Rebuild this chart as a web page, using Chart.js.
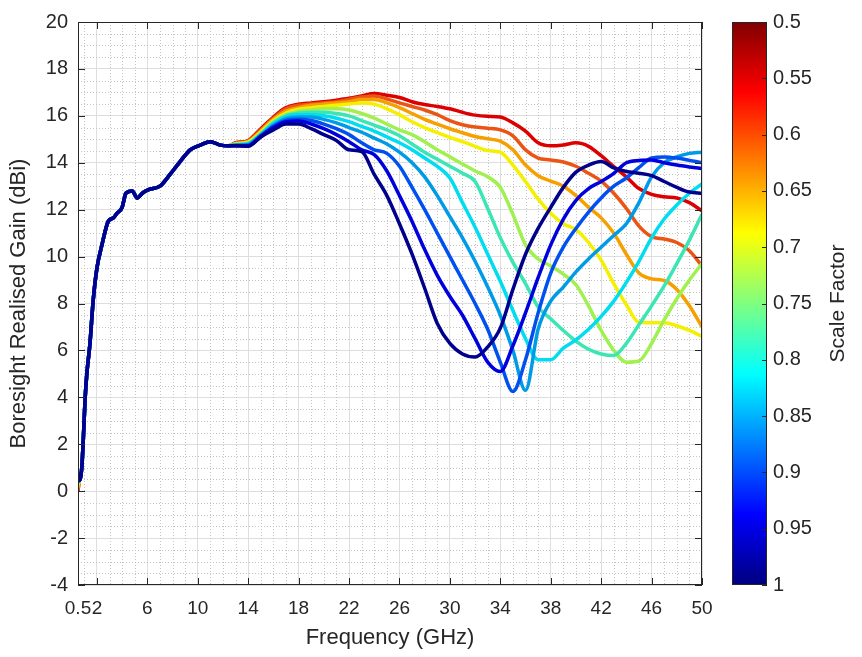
<!DOCTYPE html>
<html>
<head>
<meta charset="utf-8">
<script src="https://cdn.jsdelivr.net/npm/chart.js@4.4.1/dist/chart.umd.min.js"></script>
<style>
	html, body { margin: 0; padding: 0; background: #ffffff; }
	#wrap      { width: 862px; height: 657px; }
</style>
</head>
<body>
<div id="wrap"><canvas id="gainChart" width="862" height="657"></canvas></div>
<script>
// Boresight realised gain vs frequency, one trace per scale factor (jet colour scale)

const scaleFactors = [1, 0.95, 0.9, 0.85, 0.8, 0.75, 0.7, 0.65, 0.6, 0.55, 0.5]
const lineColors   = ['#00008c', '#0000dc', '#0050f0', '#009be6', '#00dcf0', '#3ce6b4', '#a0f050', '#f5f000', '#f5a000', '#eb5514', '#dc0000']
const startGain    = [0.8, 0.7, 0.6, 0.5, 0.45, 0.4, 0.3, 0.25, 0.15, 0.05, 0.0]

// shared low band, every trace sits on top of the others here
const lowFreq = [0.6, 0.8, 0.92, 1.06, 1.2, 1.45, 1.7, 2.0, 2.4, 2.9, 3.3, 3.6, 4.0, 4.3, 4.8, 5.2, 5.6, 6.1, 7.0, 7.8, 8.6, 9.4, 10.2, 11.0, 11.8, 12.4]
const lowGain = [0.45, 1.0, 2.2, 3.9, 5.0, 6.3, 8.1, 9.5, 10.5, 11.5, 11.65, 11.85, 12.1, 12.7, 12.8, 12.5, 12.7, 12.85, 13.0, 13.5, 14.05, 14.55, 14.75, 14.9, 14.75, 14.72]

const highFreq = [13, 14, 15, 16, 17, 18, 19, 20, 21, 22, 23, 24, 25, 26, 27, 28, 29, 30, 31, 32, 33, 34, 35, 36, 37, 38, 39, 40, 41, 42, 43, 44, 45, 46, 47, 48, 49, 50]

const gain100 = [14.72, 14.7, 15.1, 15.4, 15.65, 15.65, 15.45, 15.2, 14.95, 14.55, 14.48, 13.5, 12.6, 11.4, 10.1, 8.65, 7.15, 6.3, 5.85, 5.72, 6.15, 6.95, 8.6, 10.1, 11.2, 12.1, 12.95, 13.6, 13.9, 14.05, 13.78, 13.63, 13.55, 13.45, 13.2, 12.95, 12.75, 12.7]
const gain095 = [14.73, 14.72, 15.12, 15.5, 15.75, 15.78, 15.65, 15.45, 15.2, 14.9, 14.55, 14.35, 13.65, 12.6, 11.5, 10.3, 9.2, 8.3, 7.5, 6.5, 5.5, 5.1, 6.2, 7.6, 9.1, 10.5, 11.6, 12.4, 12.9, 13.2, 13.55, 14.0, 14.1, 14.12, 14.0, 13.9, 13.82, 13.75]
const gain090 = [14.74, 14.75, 15.15, 15.55, 15.8, 15.85, 15.8, 15.65, 15.45, 15.2, 14.85, 14.55, 14.4, 13.85, 12.95, 12.0, 11.0, 10.0, 9.0, 8.0, 6.9, 5.5, 4.25, 5.6, 7.6, 9.3, 10.4, 11.2, 11.9, 12.5, 13.0, 13.35, 13.8, 14.2, 14.25, 14.2, 14.1, 14.0]
const gain085 = [14.75, 14.78, 15.18, 15.6, 15.88, 15.95, 15.95, 15.85, 15.7, 15.5, 15.3, 15.05, 14.8, 14.45, 14.0, 13.4, 12.6, 11.7, 10.8, 9.8, 8.7, 7.5, 6.0, 4.3, 6.9, 8.1, 8.7, 9.35, 9.9, 10.4, 10.9, 11.4, 12.3, 13.4, 14.0, 14.25, 14.4, 14.45]
const gain080 = [14.76, 14.8, 15.2, 15.65, 15.95, 16.05, 16.05, 16.0, 15.9, 15.75, 15.55, 15.35, 15.1, 14.85, 14.55, 14.2, 13.85, 13.35, 12.3, 11.25, 10.1, 8.95, 7.7, 6.5, 5.6, 5.6, 6.1, 6.45, 6.9, 7.45, 8.1, 8.9, 9.8, 10.8, 11.6, 12.2, 12.7, 13.1]
const gain075 = [14.77, 14.82, 15.22, 15.7, 16.0, 16.12, 16.15, 16.15, 16.1, 16.0, 15.8, 15.6, 15.4, 15.15, 14.8, 14.45, 14.15, 13.85, 13.55, 13.2, 12.05, 10.8, 9.75, 8.85, 7.85, 7.35, 6.85, 6.4, 6.05, 5.85, 5.78, 6.3, 7.1, 7.9, 8.75, 9.7, 10.7, 11.8]
const gain070 = [14.78, 14.85, 15.25, 15.75, 16.05, 16.2, 16.25, 16.3, 16.3, 16.25, 16.1, 15.9, 15.65, 15.4, 15.2, 14.9, 14.55, 14.25, 13.95, 13.65, 13.4, 12.95, 11.8, 10.5, 9.9, 9.6, 9.25, 8.8, 7.9, 6.85, 6.0, 5.5, 5.55, 6.3, 7.3, 8.2, 9.0, 9.7]
const gain065 = [14.8, 14.88, 15.3, 15.8, 16.12, 16.28, 16.35, 16.4, 16.45, 16.5, 16.55, 16.5, 16.3, 16.05, 15.75, 15.5, 15.28, 15.08, 14.9, 14.7, 14.52, 14.45, 13.9, 13.2, 12.45, 11.85, 11.4, 11.15, 10.6, 9.85, 8.85, 7.95, 7.2, 7.18, 7.18, 7.05, 6.85, 6.6]
const gain060 = [14.82, 14.9, 15.35, 15.85, 16.2, 16.35, 16.45, 16.5, 16.55, 16.6, 16.7, 16.7, 16.55, 16.35, 16.1, 15.85, 15.65, 15.45, 15.28, 15.12, 15.02, 14.92, 14.55, 13.9, 13.45, 13.22, 13.0, 12.6, 12.1, 11.65, 11.0, 10.1, 9.3, 9.05, 8.98, 8.6, 7.9, 7.0]
const gain055 = [14.83, 14.93, 15.4, 15.9, 16.3, 16.45, 16.5, 16.55, 16.6, 16.7, 16.8, 16.85, 16.72, 16.55, 16.4, 16.25, 16.05, 15.8, 15.62, 15.52, 15.47, 15.4, 15.15, 14.55, 14.2, 14.12, 14.03, 13.85, 13.55, 13.22, 12.7, 12.05, 11.3, 10.85, 10.75, 10.6, 10.25, 9.6]
const gain050 = [14.85, 14.95, 15.45, 15.95, 16.35, 16.5, 16.55, 16.6, 16.67, 16.75, 16.85, 16.95, 16.88, 16.78, 16.6, 16.48, 16.4, 16.3, 16.15, 16.03, 15.98, 15.95, 15.7, 15.35, 14.85, 14.72, 14.76, 14.85, 14.7, 14.3, 13.84, 13.4, 12.9, 12.65, 12.55, 12.5, 12.3, 11.95]

const highGain = [gain100, gain095, gain090, gain085, gain080, gain075, gain070, gain065, gain060, gain055, gain050]

const xTicks        = [0.5, 2, 6, 10, 14, 18, 22, 26, 30, 34, 38, 42, 46, 50]
const colorbarTicks = [0.5, 0.55, 0.6, 0.65, 0.7, 0.75, 0.8, 0.85, 0.9, 0.95, 1]

const axisInk   = '#262626'
const textFont  = '"Liberation Sans", Arial, sans-serif'

const buildTrace = (idx) => [
	{ x : 0.5, y : startGain[idx] },
	...lowFreq.map((f, k) => ({ x : f, y : lowGain[k] })),
	...highFreq.map((f, k) => ({ x : f, y : highGain[idx][k] })),
]

// dotted minor grid, drawn under the traces
const minorGrid = {
	id : 'minorGrid',
	beforeDatasetsDraw : (chart) => {
		const { ctx, chartArea : ca, scales : { x, y } } = chart
		ctx.save()
		ctx.strokeStyle = '#c4c4c4'
		ctx.lineWidth   = 1
		ctx.setLineDash([1, 2])
		for ( let f = 1; f < 50; f++ ) {
			if ( xTicks.includes(f) ) { continue }
			const px = Math.round(x.getPixelForValue(f)) + 0.5
			ctx.beginPath(); ctx.moveTo(px, ca.top); ctx.lineTo(px, ca.bottom); ctx.stroke()
		}
		for ( let g = -3.5; g < 20; g += 0.5 ) {
			if ( g % 2 === 0 ) { continue }
			const py = Math.round(y.getPixelForValue(g)) + 0.5
			ctx.beginPath(); ctx.moveTo(ca.left, py); ctx.lineTo(ca.right, py); ctx.stroke()
		}
		ctx.restore()
	},
}

// axes box with inward ticks on all four sides
const axesBox = {
	id : 'axesBox',
	afterDatasetsDraw : (chart) => {
		const { ctx, chartArea : ca, scales : { x, y } } = chart
		const tl = 7
		ctx.save()
		ctx.strokeStyle = axisInk
		ctx.lineWidth   = 1
		ctx.strokeRect(ca.left + 0.5, ca.top + 0.5, ca.right - ca.left - 1, ca.bottom - ca.top - 1)
		ctx.beginPath()
		for ( const v of xTicks ) {
			const px = Math.round(x.getPixelForValue(v)) + 0.5
			ctx.moveTo(px, ca.bottom); ctx.lineTo(px, ca.bottom - tl)
			ctx.moveTo(px, ca.top);    ctx.lineTo(px, ca.top + tl)
		}
		for ( let g = -4; g <= 20; g += 2 ) {
			const py = Math.round(y.getPixelForValue(g)) + 0.5
			ctx.moveTo(ca.left, py);  ctx.lineTo(ca.left + tl, py)
			ctx.moveTo(ca.right, py); ctx.lineTo(ca.right - tl, py)
		}
		ctx.stroke()
		ctx.restore()
	},
}

// jet colour bar for the scale factor, 0.5 at the top
const colorBar = {
	id : 'colorBar',
	afterDraw : (chart) => {
		const { ctx, chartArea : ca } = chart
		const left  = ca.right + 30
		const width = 35
		const grad  = ctx.createLinearGradient(0, ca.bottom, 0, ca.top)
		grad.addColorStop(0,     '#000080')
		grad.addColorStop(0.125, '#0000ff')
		grad.addColorStop(0.375, '#00ffff')
		grad.addColorStop(0.625, '#ffff00')
		grad.addColorStop(0.875, '#ff0000')
		grad.addColorStop(1,     '#800000')
		ctx.save()
		ctx.fillStyle = grad
		ctx.fillRect(left, ca.top, width, ca.bottom - ca.top)
		ctx.strokeStyle = axisInk
		ctx.lineWidth   = 1
		ctx.strokeRect(left + 0.5, ca.top + 0.5, width - 1, ca.bottom - ca.top - 1)
		ctx.fillStyle    = axisInk
		ctx.font         = `20px ${textFont}`
		ctx.textAlign    = 'left'
		ctx.textBaseline = 'middle'
		ctx.beginPath()
		for ( const v of colorbarTicks ) {
			const py = ca.top + (v - 0.5) / 0.5 * (ca.bottom - ca.top)
			const ly = Math.round(py) + 0.5
			ctx.moveTo(left + width, ly); ctx.lineTo(left + width - 5, ly)
			ctx.fillText(String(v), left + width + 6, py)
		}
		ctx.stroke()
		ctx.translate(838, (ca.top + ca.bottom) / 2)
		ctx.rotate(-Math.PI / 2)
		ctx.textAlign = 'center'
		ctx.font      = `21px ${textFont}`
		ctx.fillText('Scale Factor', 0, 0)
		ctx.restore()
	},
}

new Chart(
	document.getElementById('gainChart'),
	{
		type : 'line',
		data : {
			datasets : scaleFactors.map((s, idx) => ({
				label                  : `Scale ${s}`,
				data                   : buildTrace(idx),
				borderColor            : lineColors[idx],
				borderWidth            : 3.5,
				pointRadius            : 0,
				cubicInterpolationMode : 'monotone',
				fill                   : false,
			})),
		},
		options : {
			responsive       : false,
			devicePixelRatio : 1,
			animation        : false,
			parsing          : false,
			layout           : { padding : { top : 20, right : 160, bottom : 0, left : 0 } },
			plugins          : {
				legend  : { display : false },
				tooltip : { enabled : false },
			},
			scales : {
				x : {
					type  : 'linear',
					min   : 0.5,
					max   : 50,
					afterBuildTicks : (scale) => { scale.ticks = xTicks.map((v) => ({ value : v })) },
					afterFit        : (scale) => { scale.height = 72 },
					ticks : {
						autoSkip    : false,
						maxRotation : 0,
						padding     : 12,
						color       : axisInk,
						font        : { family : textFont, size : 19 },
						callback    : (v) => String(v),
					},
					grid   : { color : '#dedede', drawTicks : false },
					border : { display : false },
					title  : {
						display : true,
						text    : 'Frequency (GHz)',
						color   : axisInk,
						font    : { family : textFont, size : 22 },
						padding : { top : 0, bottom : 6 },
					},
				},
				y : {
					min      : -4,
					max      : 20,
					afterFit : (scale) => { scale.width = 78 },
					ticks    : {
						stepSize : 2,
						padding  : 10,
						color    : axisInk,
						font     : { family : textFont, size : 20 },
					},
					grid   : { color : '#dedede', drawTicks : false },
					border : { display : false },
					title  : {
						display : true,
						text    : 'Boresight Realised Gain (dBi)',
						color   : axisInk,
						font    : { family : textFont, size : 22 },
						padding : { top : 6, bottom : 0 },
					},
				},
			},
		},
		plugins : [minorGrid, axesBox, colorBar],
	}
)
</script>
</body>
</html>
